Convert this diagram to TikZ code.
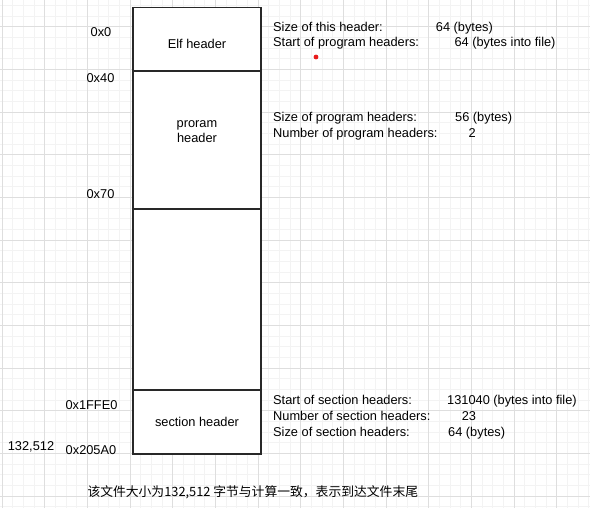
\documentclass[tikz,border=0pt]{standalone}
\usepackage{fontspec}
\setmainfont{Liberation Sans}
\newfontfamily\cjkfont{Noto Sans CJK SC}
\usetikzlibrary{positioning}
\definecolor{GridMinor}{RGB}{243,243,243}
\definecolor{GridMajor}{RGB}{222,222,222}
\definecolor{BoxLine}{RGB}{40,40,40}
\definecolor{DotRed}{RGB}{232,28,28}

\begin{document}
\begin{tikzpicture}[
                    x=1pt, y=-1pt,
                    font=\fontsize{12.8}{15}\selectfont,
                    box/.style={rectangle, draw=BoxLine, line width=1.1pt, fill=white, minimum width=128pt, outer sep=0pt, inner sep=0pt},
                    addr/.style={inner sep=0pt},
                    info/.style={inner sep=0pt, anchor=base west}
                ]
                    \useasboundingbox (0,0) rectangle (590,508);
                    % grid
                    \foreach \i in {0,...,56} {
                        \draw[GridMinor, line width=0.8pt] ({2+10.667*(\i-1)},0) -- ++(0,508);
                    }
                    \foreach \i in {0,...,50} {
                        \draw[GridMinor, line width=0.8pt] (0,{26.67+10.667*(\i-3)}) -- ++(590,0);
                    }
                    \foreach \i in {0,...,13} {
                        \draw[GridMajor, line width=0.8pt] ({2+42.67*\i},0) -- ++(0,508);
                    }
                    \foreach \i in {-1,...,11} {
                        \draw[GridMajor, line width=0.8pt] (0,{26.67+42.67*\i}) -- ++(590,0);
                    }

                    % file layout
                    \node[box, minimum height=63.5pt] (elf) at (197,39.25) {};
                    \node[box, minimum height=138pt, below=0pt of elf] (phdr) {};
                    \node[box, minimum height=181pt, below=0pt of phdr] (body) {};
                    \node[box, minimum height=64pt, below=0pt of body] (shdr) {section header};
                    \node[addr] (elftext) at (197,44.3) {Elf header};
                    \node[addr, align=center] (phdrtext) at (197,131.5) {proram\\header};

                    % offsets
                    \node[addr] (off0) at (101,32) {0x0};
                    \node[addr] (off40) at (100.5,78) {0x40};
                    \node[addr] (off70) at (100.5,194) {0x70};
                    \node[addr] (offsh) at (91.5,405) {0x1FFE0};
                    \node[addr] (offend) at (91,450) {0x205A0};
                    \node[addr] (size) at (31,447) {132,512};

                    % header fields
                    \node[info] (ehsize) at (273,31.5) {Size of this header:};
                    \node[info] (ehsizev) at (435.7,31.5) {64 (bytes)};
                    \node[info] (phoff) at (273,47) {Start of program headers:};
                    \node[info] (phoffv) at (454.3,47) {64 (bytes into file)};
                    \node[info] (phsize) at (273,122) {Size of program headers:};
                    \node[info] (phsizev) at (455,122) {56 (bytes)};
                    \node[info] (phnum) at (273,137.5) {Number of program headers:};
                    \node[info] (phnumv) at (468.3,137.5) {2};
                    \node[info] (shoff) at (273,404.5) {Start of section headers:};
                    \node[info] (shoffv) at (447,404.5) {131040 (bytes into file)};
                    \node[info] (shnum) at (273,420.5) {Number of section headers:};
                    \node[info] (shnumv) at (461.6,420.5) {23};
                    \node[info] (shsize) at (273,436.5) {Size of section headers:};
                    \node[info] (shsizev) at (448,436.5) {64 (bytes)};

                    \fill[DotRed] (316,57) circle (2.4pt);

                    \node[info, font=\cjkfont\fontsize{12.8}{15}\selectfont] (note) at (87.3,496.5) {该文件大小为132,512 字节与计算一致，表示到达文件末尾};
                \end{tikzpicture}
\end{document}
